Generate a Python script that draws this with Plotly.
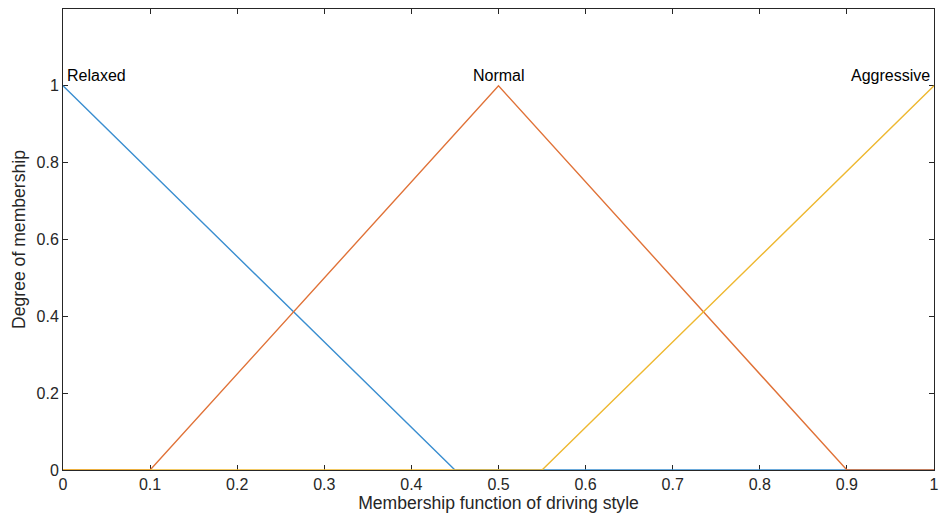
import plotly.graph_objects as go

# Membership functions (breakpoints)
relaxed_x = [0, 0.45, 1]
relaxed_y = [1, 0, 0]
normal_x = [0, 0.1, 0.5, 0.9, 1]
normal_y = [0, 0, 1, 0, 0]
aggressive_x = [0, 0.55, 1]
aggressive_y = [0, 0, 1]

names = ["Relaxed", "Normal", "Aggressive"]
label_x = [0, 0.5, 1]
label_y = [1, 1, 1]

x_ticks = [0, 0.1, 0.2, 0.3, 0.4, 0.5, 0.6, 0.7, 0.8, 0.9, 1]
x_ticktext = ["0", "0.1", "0.2", "0.3", "0.4", "0.5", "0.6", "0.7", "0.8", "0.9", "1"]
y_ticks = [0, 0.2, 0.4, 0.6, 0.8, 1]
y_ticktext = ["0", "0.2", "0.4", "0.6", "0.8", "1"]

colors = ["#3A8ED0", "#E07238", "#EEB830"]
font_family = "Liberation Sans, Arial, Helvetica, sans-serif"
axis_col = "#262626"

fig = go.Figure()
for xs, ys, c, n in zip([relaxed_x, normal_x, aggressive_x],
                        [relaxed_y, normal_y, aggressive_y], colors, names):
    fig.add_trace(go.Scatter(x=xs, y=ys, mode="lines", name=n,
                             line=dict(color=c, width=1.4), showlegend=False,
                             hoverinfo="skip", cliponaxis=False))

anchors = ["left", "center", "right"]
shifts = [2, 0, -2]
for n, lx, ly, a, s in zip(names, label_x, label_y, anchors, shifts):
    fig.add_annotation(x=lx, y=ly, text=n, showarrow=False, xanchor=a,
                       yanchor="bottom", xshift=s, yshift=0,
                       font=dict(family=font_family, size=16, color="#000000"))

fig.update_layout(
    width=941, height=517,
    margin=dict(l=63, r=7, t=9, b=47, autoexpand=False),
    paper_bgcolor="white", plot_bgcolor="white",
    font=dict(family=font_family, size=16, color=axis_col),
)
fig.update_xaxes(
    range=[0, 1], tickvals=x_ticks, ticktext=x_ticktext,
    showgrid=False, zeroline=False, showline=True, linecolor=axis_col,
    linewidth=1, mirror="allticks", ticks="inside", ticklen=5,
    tickcolor=axis_col, tickfont=dict(size=16, color=axis_col),
    ticklabeloverflow="allow", layer="below traces", automargin=False,
    title=dict(text="Membership function of driving style",
               font=dict(size=17.6, color=axis_col), standoff=4),
)
fig.update_yaxes(
    range=[0, 1.2], tickvals=y_ticks, ticktext=y_ticktext,
    showgrid=False, zeroline=False, showline=True, linecolor=axis_col,
    linewidth=1, mirror="allticks", ticks="inside", ticklen=5,
    tickcolor=axis_col, tickfont=dict(size=16, color=axis_col),
    layer="below traces", automargin=False,
    title=dict(text="Degree of membership",
               font=dict(size=17.6, color=axis_col), standoff=6),
)

fig.write_html("out.html", config={"displayModeBar": False},
               post_script="document.body.style.margin='0';document.body.style.overflow='hidden';")
